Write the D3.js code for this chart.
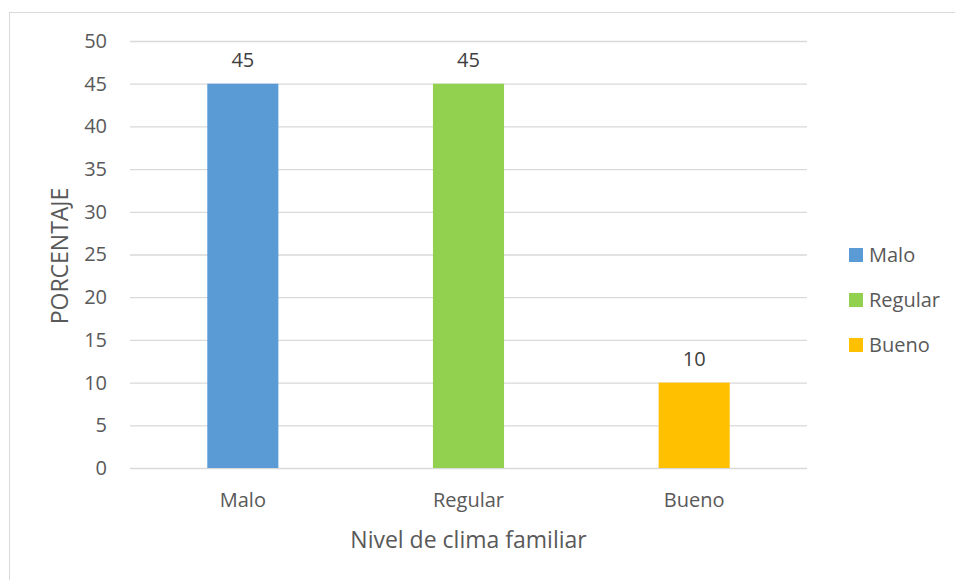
<!DOCTYPE html>
<html>
<head>
<meta charset="utf-8">
<script src="https://cdn.jsdelivr.net/npm/d3@7"></script>
<style>
  body { margin: 0; background: #fff; }
  text { font-family: "Open Sans", sans-serif; }
</style>
</head>
<body>
<svg width="955" height="580"></svg>
<script>
let svg = d3.select("svg");

// datos
let categorias = ["Malo", "Regular", "Bueno"];
let valores = [45, 45, 10];
let colores = ["#5B9BD5", "#92D050", "#FFC000"];
let marcasY = [0, 5, 10, 15, 20, 25, 30, 35, 40, 45, 50];

let fuente = "'Open Sans', sans-serif";

// borde del grafico
svg.append("rect")
    .attr("x", 9.5)
    .attr("y", 12.5)
    .attr("width", 1000)
    .attr("height", 1000)
    .attr("fill", "none")
    .attr("stroke", "#d9d9d9");

let izq = 130, der = 807, arriba = 41, abajo = 468;

let x = d3.scaleBand()
    .domain(categorias)
    .range([izq, der])
    .paddingInner(0.685)
    .paddingOuter(0.3425);

let y = d3.scaleLinear()
    .domain([0, 50])
    .range([abajo, arriba]);

// lineas de cuadricula
svg.append("g")
    .attr("transform", `translate(${izq},0)`)
    .call(d3.axisLeft(y).tickValues(marcasY).tickSize(-(der - izq)).tickPadding(23))
    .call(g => g.select(".domain").remove())
    .call(g => g.selectAll("line").attr("stroke", "#d9d9d9").attr("stroke-width", 1.3))
    .call(g => g.selectAll("text").attr("fill", "#595959").style("font-size", "20px")
        .style("font-family", fuente));

// barras
svg.selectAll(".barra")
    .data(valores)
    .enter()
    .append("rect")
    .attr("class", "barra")
    .attr("x", (d, i) => x(categorias[i]))
    .attr("y", d => y(d))
    .attr("width", x.bandwidth())
    .attr("height", d => y(0) - y(d))
    .attr("fill", (d, i) => colores[i]);

// etiquetas de datos
svg.selectAll(".etiqueta")
    .data(valores)
    .enter()
    .append("text")
    .attr("class", "etiqueta")
    .attr("x", (d, i) => x(categorias[i]) + x.bandwidth() / 2)
    .attr("y", d => y(d) - 17)
    .attr("text-anchor", "middle")
    .attr("fill", "#404040")
    .style("font-size", "20px")
    .text(d => d);

// eje x
svg.append("g")
    .attr("transform", `translate(0,${abajo})`)
    .call(d3.axisBottom(x).tickSize(0).tickPadding(25))
    .call(g => g.select(".domain").remove())
    .call(g => g.selectAll("text").attr("fill", "#595959").style("font-size", "20px")
        .style("font-family", fuente));

// titulos de ejes
svg.append("text")
    .attr("x", (izq + der) / 2)
    .attr("y", 548)
    .attr("text-anchor", "middle")
    .attr("fill", "#595959")
    .style("font-size", "23px")
    .text("Nivel de clima familiar");

svg.append("text")
    .attr("transform", `translate(68,256) rotate(-90)`)
    .attr("text-anchor", "middle")
    .attr("fill", "#595959")
    .style("font-size", "23px")
    .text("PORCENTAJE");

// leyenda
let leyenda = svg.selectAll(".leyenda")
    .data(categorias)
    .enter()
    .append("g")
    .attr("class", "leyenda")
    .attr("transform", (d, i) => `translate(849,${255 + i * 45})`);

leyenda.append("rect")
    .attr("x", 0)
    .attr("y", -7)
    .attr("width", 14)
    .attr("height", 14)
    .attr("fill", (d, i) => colores[i]);

leyenda.append("text")
    .attr("x", 20)
    .attr("y", 7)
    .attr("fill", "#595959")
    .style("font-size", "20px")
    .text(d => d);
</script>
</body>
</html>
